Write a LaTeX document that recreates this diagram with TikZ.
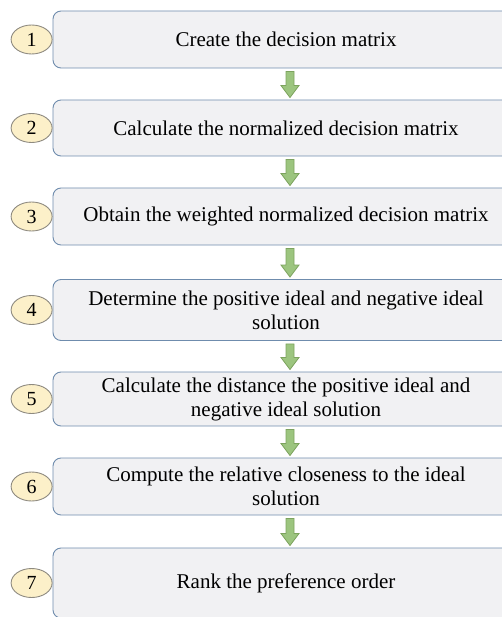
\documentclass[tikz,border=0pt]{standalone}
\usepackage{fontspec}
\setmainfont{Liberation Serif}
\usepackage{tikz}
\usetikzlibrary{positioning,calc,shapes.geometric}
\definecolor{boxfill}{HTML}{F1F1F3}
\definecolor{boxedge}{HTML}{6F8CAD}
\definecolor{numfill}{HTML}{FCF0C9}
\definecolor{numedge}{HTML}{8E8A80}
\definecolor{arrowfill}{HTML}{9CC57F}
\definecolor{arrowedge}{HTML}{7DA35F}
\tikzset{
  % steg
  stepbox/.style={rectangle,rounded corners=8pt,draw=boxedge,fill=boxfill,line width=0.9pt,
                  minimum width=466pt,align=center,inner sep=2pt,
                  font=\fontsize{21}{24}\selectfont},
  stepnum/.style={ellipse,draw=numedge,fill=numfill,line width=0.9pt,inner sep=0pt,
                  minimum width=41pt,minimum height=29pt,font=\fontsize{20}{24}\selectfont},
  % pilar
  flowarrow/.style={draw=arrowedge,fill=arrowfill,line width=0.8pt,line join=miter,
    to path={let \p1=(\tikztostart), \p2=(\tikztotarget) in
      (\x1-4pt,\y1) -- (\x1+4pt,\y1) -- (\x1+4pt,\y2+12pt) -- (\x1+9pt,\y2+12pt)
      -- (\x1,\y2) -- (\x1-9pt,\y2+12pt) -- (\x1-4pt,\y2+12pt) -- cycle}},
}
\begin{document}
\begin{tikzpicture}[x=1pt,y=-1pt]
  \useasboundingbox (0,0) rectangle (501,617);
  \node[stepbox,minimum height=57pt] (b1) at (286,39.5) {Create the decision matrix};
  \node[stepbox,minimum height=56pt] (b2) at (286,128) {Calculate the normalized decision matrix};
  \node[stepbox,minimum height=57pt] (b3) at (286,216.5) {Obtain the weighted normalized decision matrix};
  \node[stepbox,minimum height=61pt] (b4) at (286,310)
     {Determine the positive ideal and negative ideal\\ solution};
  \node[stepbox,minimum height=54pt] (b5) at (286,399)
     {Calculate the distance the positive ideal and\\ negative ideal solution};
  \node[stepbox,minimum height=57pt] (b6) at (286,486.5)
     {Compute the relative closeness to the ideal\\ solution};
  \node[stepbox,minimum height=70pt] (b7) at (286,583) {Rank the preference order};
  \foreach \i in {1,...,7}
    \node[stepnum,left=0pt of b\i] (n\i) {\i};
  \foreach \i [evaluate=\i as \j using int(\i+1)] in {1,...,6}
    \draw[flowarrow] ([xshift=4pt,yshift=-3pt]b\i.south) to ([xshift=4pt,yshift=2pt]b\j.north);
\end{tikzpicture}
\end{document}
